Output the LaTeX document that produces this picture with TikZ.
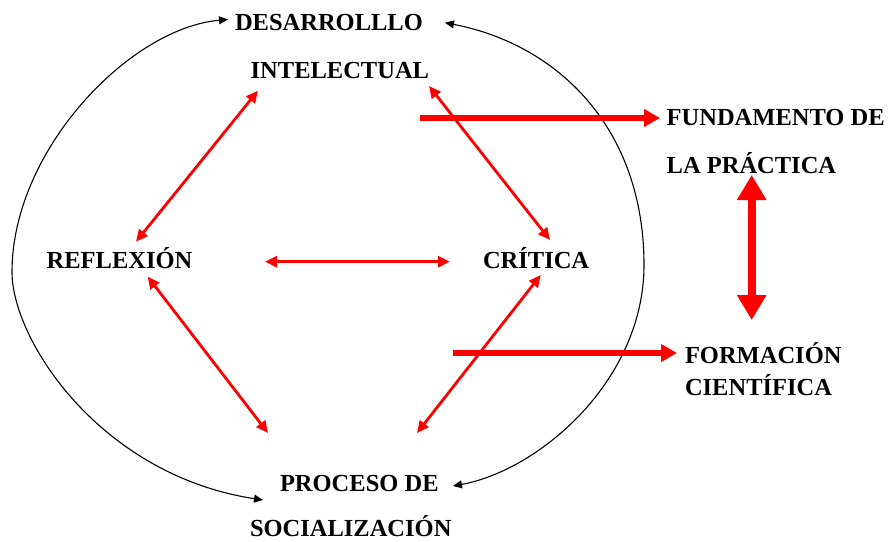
\documentclass[tikz,border=0pt]{standalone}
\usepackage{fontspec}
\setmainfont{Liberation Serif}
\usetikzlibrary{arrows.meta}
\definecolor{arrred}{RGB}{255,0,0}
\tikzset{
  lbl/.style={anchor=base west, inner sep=0pt, outer sep=0pt, font=\fontsize{24.5}{29}\selectfont\bfseries},
  thinred/.style={draw=arrred, line width=2.8pt, {Triangle[length=12pt,width=11pt]}-{Triangle[length=12pt,width=11pt]}},
  thickred/.style={draw=arrred, line width=6pt, -{Triangle[length=16pt,width=17pt]}},
  bigred/.style={draw=arrred, line width=8pt, {Triangle[length=25pt,width=28pt]}-{Triangle[length=25pt,width=28pt]}},
  blackcurve/.style={draw=black, line width=1.1pt, {Triangle[length=9pt,width=8pt]}-{Triangle[length=9pt,width=8pt]}}
}
\begin{document}
\begin{tikzpicture}[x=1pt,y=-1pt]
\useasboundingbox (0,0) rectangle (891,541);
\node[lbl] (des) at (235,30.5) {DESARROLLLO};
\node[lbl] (intel) at (250.7,78) {INTELECTUAL};
\node[lbl] (refl) at (46.7,268) {REFLEXIÓN};
\node[lbl] (crit) at (483,268) {CRÍTICA};
\node[lbl] (proc) at (280,491) {PROCESO DE};
\node[lbl] (soc) at (250,536) {SOCIALIZACIÓN};
\node[lbl] (fund) at (666.7,125.7) {FUNDAMENTO DE};
\node[lbl] (lap) at (666.7,173) {LA PRÁCTICA};
\node[lbl] (form) at (685,363) {FORMACIÓN};
\node[lbl] (cien) at (685,395) {CIENTÍFICA};
\coordinate (leftmost) at (12,272);
\coordinate (rightmost) at (644,265);
\coordinate (fundstart) at (420,118);
\coordinate (formstart) at (453,353);
% black curves
\draw[blackcurve] ([shift={(-7,-11)}]des.base west) .. controls (130,28) and (12,150) .. (leftmost)
  .. controls (12,340) and (100,475) .. ([shift={(-17,9)}]proc.base west);
\draw[blackcurve] ([shift={(210,-7.8)}]des.base west) .. controls (560,45) and (644,130) .. (rightmost)
  .. controls (644,380) and (540,470) .. ([shift={(173,-5)}]proc.base west);
% thin red double arrows
\draw[thinred] ([shift={(7.3,12.7)}]intel.base west) -- ([shift={(89.3,-26.3)}]refl.base west);
\draw[thinred] ([shift={(178.3,8)}]intel.base west) -- ([shift={(67,-28)}]crit.base west);
\draw[thinred] ([shift={(218.3,-6.3)}]refl.base west) -- ([shift={(-33,-6.3)}]crit.base west);
\draw[thinred] ([shift={(101,8.7)}]refl.base west) -- ([shift={(-12,-58)}]proc.base west);
\draw[thinred] ([shift={(57.7,7)}]crit.base west) -- ([shift={(137,-58)}]proc.base west);
% thick red arrows
\draw[thickred] (fundstart) -- ([shift={(-6.7,-7.7)}]fund.base west);
\draw[thickred] (formstart) -- ([shift={(-8,-10)}]form.base west);
\draw[bigred] ([shift={(85,2)}]lap.base west) -- ([shift={(66.7,-43)}]form.base west);
\end{tikzpicture}
\end{document}
